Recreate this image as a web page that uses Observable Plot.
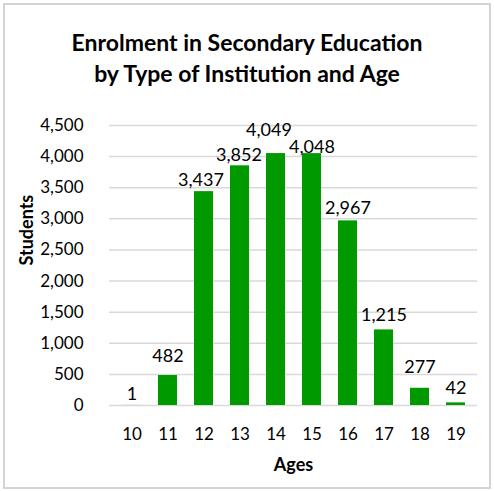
<!DOCTYPE html>
<html>
<head>
<meta charset="utf-8">
<script src="https://cdn.jsdelivr.net/npm/d3@7"></script>
<script src="https://cdn.jsdelivr.net/npm/@observablehq/plot@0.6"></script>
<style>
  html, body { margin: 0; padding: 0; background: #fff; }
  #wrap { position: relative; width: 494px; height: 491px; overflow: hidden; font-family: Lato, sans-serif; }
  #frame { position: absolute; left: 3px; top: 3px; width: 484px; height: 482px; border: 2px solid #d4d4d4; pointer-events: none; }
  #title { height: 95px; box-sizing: border-box; padding-top: 27px; text-align: center; font-weight: bold; font-size: 23px; line-height: 31px; color: #000; }
  svg { display: block; }
</style>
</head>
<body>
<div id="wrap">
  <div id="title">Enrolment in Secondary Education<br>by Type of Institution and Age</div>
  <div id="chart"></div>
  <div id="frame"></div>
</div>
<script>
const ages = [10, 11, 12, 13, 14, 15, 16, 17, 18, 19];
const students = [1, 482, 3437, 3852, 4049, 4048, 2967, 1215, 277, 42];
const yTicks = [0, 500, 1000, 1500, 2000, 2500, 3000, 3500, 4000, 4500];
const xTitle = "Ages";
const yTitle = "Students";

const data = ages.map((a, i) => ({age: a, value: students[i]}));
// label placement tweaks (Excel-style nudges), relative to bar top
const gap = {10: 5, 11: 14, 12: 6, 13: 5, 14: 18, 15: 1, 16: 7, 17: 9, 18: 15, 19: 9};
const shift = {12: -3, 13: -1, 14: -7};
const fmt = d3.format(",");

const chart = Plot.plot({
  width: 494,
  height: 396,
  marginTop: 30,
  marginBottom: 86,
  marginLeft: 109,
  marginRight: 17,
  style: {fontFamily: "Lato, sans-serif", fontSize: "17px", color: "#000", background: "transparent"},
  x: {domain: ages, paddingInner: 0.48, paddingOuter: 0.24, label: null},
  y: {domain: [0, 4500], label: null},
  marks: [
    Plot.ruleY(yTicks, {stroke: "#d9d9d9", strokeWidth: 1.5}),
    Plot.barY(data, {x: "age", y: "value", fill: "#009900"}),
    Plot.axisX({tickSize: 0, tickPadding: 22, fontSize: 17}),
    Plot.axisY({ticks: yTicks, tickSize: 0, tickPadding: 26, tickFormat: fmt, fontSize: 17}),
    Plot.text(data, {
      x: "age", y: "value", text: d => fmt(d.value),
      lineAnchor: "bottom", fill: "#000", fontSize: 18,
      render: (index, scales, values, dims, context, next) => {
        const g = next(index, scales, values, dims, context);
        d3.select(g).selectAll("text").each(function(_, j) {
          const d = data[index[j]];
          const t = d3.select(this);
          t.attr("dy", -(gap[d.age] ?? 6));
          if (shift[d.age]) t.attr("dx", shift[d.age]);
        });
        return g;
      }
    }),
    Plot.text([xTitle], {frameAnchor: "bottom", dy: 60, lineAnchor: "middle", fontWeight: "bold", fontSize: 18, fill: "#000"}),
    Plot.text([yTitle], {frameAnchor: "left", dx: -82, rotate: -90, lineAnchor: "middle", fontWeight: "bold", fontSize: 18, fill: "#000"})
  ]
});
document.getElementById("chart").appendChild(chart);
</script>
</body>
</html>
